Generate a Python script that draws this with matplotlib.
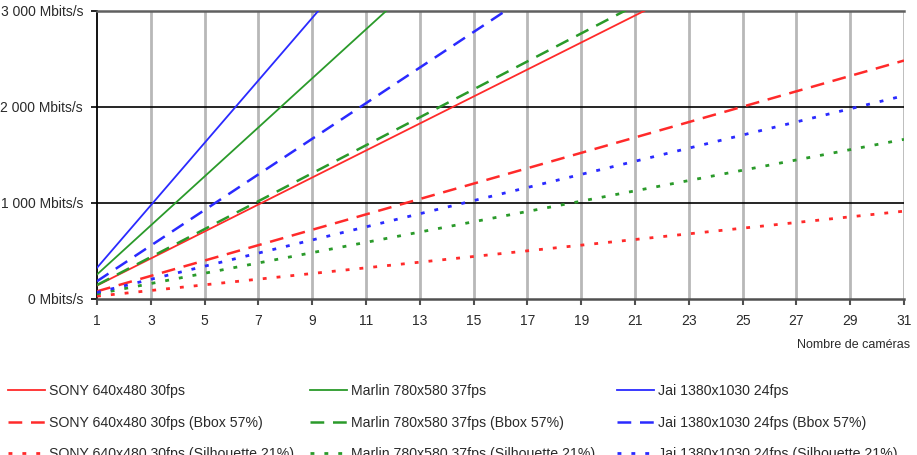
import matplotlib
matplotlib.use("Agg")
import matplotlib.pyplot as plt

plt.rcParams['font.family'] = ['Liberation Sans', 'DejaVu Sans']

# Data (Mbits/s) at 1 and 31 cameras
cameras = [1, 31]
sony = [140.6, 4359]
sony_bbox = [80.1, 2484]
sony_sil = [29.5, 915]
marlin = [255.4, 7917]
marlin_bbox = [145.6, 4513]
marlin_sil = [53.6, 1663]
jai = [325.3, 10084]
jai_bbox = [185.4, 5748]
jai_sil = [68.3, 2118]

labels = [
    "SONY 640x480 30fps", "SONY 640x480 30fps (Bbox 57%)", "SONY 640x480 30fps (Silhouette 21%)",
    "Marlin 780x580 37fps", "Marlin 780x580 37fps (Bbox 57%)", "Marlin 780x580 37fps (Silhouette 21%)",
    "Jai 1380x1030 24fps", "Jai 1380x1030 24fps (Bbox 57%)", "Jai 1380x1030 24fps (Silhouette 21%)",
]
series = [sony, sony_bbox, sony_sil, marlin, marlin_bbox, marlin_sil, jai, jai_bbox, jai_sil]
xticks = list(range(1, 32, 2))
yticks = [0, 1000, 2000, 3000]
ytick_labels = ["0 Mbits/s", "1 000 Mbits/s", "2 000 Mbits/s", "3 000 Mbits/s"]

RED, GREEN, BLUE = '#ff2a2a', '#2a9a2a', '#2a2aff'
colors = [RED] * 3 + [GREEN] * 3 + [BLUE] * 3
styles = [
    dict(linestyle='-', linewidth=1.3),
    dict(linestyle=(0, (5.5, 3.5)), linewidth=1.8),
    dict(linestyle=(0, (1.4, 3.6)), linewidth=2.0),
] * 3

W, H = 917, 455
fig = plt.figure(figsize=(W / 100, H / 100), dpi=100)
ax = fig.add_axes([97 / W, 1 - 299 / H, (904 - 97) / W, (299 - 11) / H])

ax.set_xlim(1, 31)
ax.set_ylim(0, 3000)

# grid
for x in xticks[1:]:
    ax.axvline(x, color='#b8b8b8', linewidth=2.0, zorder=1)
for y in [1000, 2000]:
    ax.axhline(y, color='#000000', linewidth=1.2, zorder=1)

handles = []
for s, c, st, lab in zip(series, colors, styles, labels):
    ln, = ax.plot(cameras, s, color=c, label=lab, zorder=3, **st)
    handles.append(ln)

ax.spines['right'].set_visible(False)
ax.spines['top'].set_color('#606060')
ax.spines['top'].set_linewidth(1.8)
ax.spines['left'].set_color('#000000')
ax.spines['left'].set_linewidth(1.3)
ax.spines['bottom'].set_color('#505050')
ax.spines['bottom'].set_linewidth(1.8)

ax.set_xticks(xticks)
ax.set_xticklabels([str(x) for x in xticks])
ax.set_yticks(yticks)
ax.set_yticklabels(ytick_labels)
ax.tick_params(axis='x', length=4, width=1.5, color='#505050', pad=7,
               labelsize=10, labelcolor='#2a2a2a')
ax.tick_params(axis='y', length=4, width=1.2, color='#000000', pad=6,
               labelsize=10, labelcolor='#2a2a2a')

fig.text(910 / W, 1 - 345 / H, "Nombre de caméras", ha='right', va='center',
         fontsize=9, color='#2a2a2a')

col_x = [8, 310, 617]
for i, cx in enumerate(col_x):
    fig.legend(handles=handles[i * 3:(i + 1) * 3], loc='upper left',
               bbox_to_anchor=(cx / W, 1 - 384 / H), frameon=False,
               fontsize=10.2, handlelength=2.62, handletextpad=0.25,
               borderpad=0, borderaxespad=0, labelspacing=1.25,
               labelcolor='#2a2a2a')

fig.savefig("out.png", dpi=100)
